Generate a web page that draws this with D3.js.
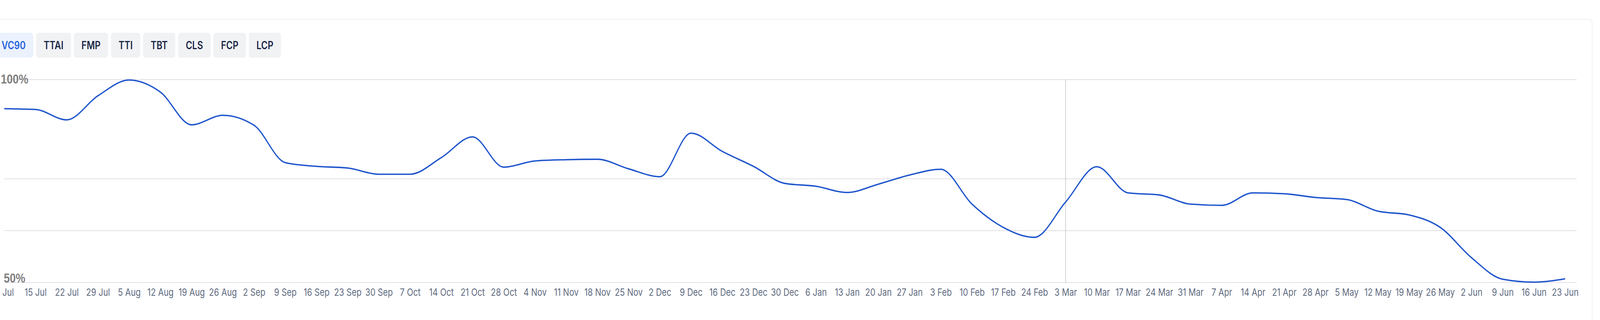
<!DOCTYPE html>
<html>
<head>
<meta charset="utf-8">
<script src="https://cdn.jsdelivr.net/npm/d3@7"></script>
<style>
  html, body { margin: 0; padding: 0; background: #fff; overflow: hidden; }
  svg { display: block; width: 100vw; height: 100vh; }
</style>
</head>
<body>
<!-- drawn in a 5064x820 frame and stretched to whatever the window really is -->
<svg id="chart" viewBox="0 0 5064 820" preserveAspectRatio="none"></svg>
<script>
// Metric tabs across the top, VC90 is the selected one
var tabs = ["VC90", "TTAI", "FMP", "TTI", "TBT", "CLS", "FCP", "LCP"];
var activeTab = "VC90";

// One point per week, Monday 8 Jul 2024 .. Monday 23 Jun 2025
var firstWeek = new Date(2024, 6, 8);
var lastWeek = new Date(2025, 5, 23);

// VC90 score per week (percent)
var vc90 = [91.9, 91.7, 89.2, 95.0, 98.8, 95.9, 88.0, 90.3, 87.9, 78.9,
            78.0, 77.6, 76.1, 76.1, 80.1, 85.1, 77.8, 79.3, 79.6, 79.7,
            77.4, 75.5, 86.0, 81.6, 78.0, 73.9, 73.2, 71.7, 73.7, 75.9,
            77.3, 68.9, 63.3, 60.9, 69.4, 77.9, 71.6, 71.1, 68.9, 68.6,
            71.6, 71.4, 70.5, 70.0, 67.2, 66.3, 63.3, 56.0, 50.8, 50.1,
            50.9];

// y gridlines; only the ends get a label
var yGrid = [50, 62.5, 75, 98.9];
var yLabels = ["50%", "", "", "100%"];

// week the hover crosshair sits on
var hoverWeek = new Date(2025, 2, 3);

var weeks = d3.timeMonday.range(firstWeek, d3.timeDay.offset(lastWeek, 1));
var points = weeks.map(function (d, i) { return { date: d, value: vc90[i] }; });

var svg = d3.select("#chart");

// card outline (top edge and right edge visible)
svg.append("path")
    .attr("d", "M-20 49.5 H5031 Q5039 49.5 5039 57.5 V840")
    .attr("fill", "none")
    .attr("stroke", "#ececee")
    .attr("stroke-width", 1.5);

// tabs
var tabFont = "600 28px Inter, 'Noto Sans', sans-serif";
var tabG = svg.append("g");
var tabX = -19;
tabs.forEach(function (name) {
    var on = name === activeTab;
    var g = tabG.append("g");
    var rect = g.append("rect")
        .attr("y", 84)
        .attr("height", 64)
        .attr("rx", 8)
        .attr("fill", on ? "#ebf2fe" : "#f1f2f4");
    var label = g.append("text")
        .attr("y", 126)
        .attr("text-anchor", "middle")
        .style("font", tabFont)
        .attr("fill", on ? "#2563db" : "#1b2747")
        .text(name);
    var w = label.node().getComputedTextLength() + 48;
    rect.attr("x", tabX).attr("width", w);
    label.attr("x", tabX + w / 2);
    tabX += w + 9;
});

// scales
var x = d3.scaleTime().domain([firstWeek, lastWeek]).range([13.5, 4953.5]);
var y = d3.scaleLinear().domain([50, 98.9]).range([724, 204]);

// gridlines
svg.append("g")
    .selectAll("line")
    .data(yGrid)
    .join("line")
    .attr("x1", 14)
    .attr("x2", 4990)
    .attr("y1", function (d) { return y(d); })
    .attr("y2", function (d) { return y(d); })
    .attr("stroke", "#e0e0e6")
    .attr("stroke-width", 2);

// hover crosshair
svg.append("line")
    .attr("x1", x(hoverWeek))
    .attr("x2", x(hoverWeek))
    .attr("y1", y(98.9))
    .attr("y2", y(50))
    .attr("stroke", "#c8c8cc")
    .attr("stroke-width", 2);

// y labels, the top one is pushed down so it stays inside the chart
svg.append("g")
    .selectAll("text")
    .data(yGrid.filter(function (v, i) { return yLabels[i]; }))
    .join("text")
    .attr("x", 46)
    .attr("y", function (v) { return Math.max(y(v), 214); })
    .attr("text-anchor", "middle")
    .style("font", "bold 34px 'Liberation Sans', Arial, sans-serif")
    .attr("fill", "#7f7f7f")
    .text(function (v) { return yLabels[yGrid.indexOf(v)]; });

// x axis, one tick per week
var xAxis = d3.axisBottom(x)
    .tickValues(weeks)
    .tickFormat(d3.timeFormat("%-d %b"))
    .tickSize(0)
    .tickPadding(0);

svg.append("g")
    .attr("transform", "translate(0,758)")
    .call(xAxis)
    .call(function (g) { g.select(".domain").remove(); })
    .selectAll("text")
    .attr("dy", "0")
    .attr("y", 0)
    .style("font", "26px Inter, 'Noto Sans', sans-serif")
    .attr("fill", "#5f6b80");

// the line
var line = d3.line()
    .x(function (d) { return x(d.date); })
    .y(function (d) { return y(d.value); })
    .curve(d3.curveMonotoneX);

svg.append("path")
    .datum(points)
    .attr("d", line)
    .attr("fill", "none")
    .attr("stroke", "#1f55cc")
    .attr("stroke-width", 3.6)
    .attr("stroke-linejoin", "round");
</script>
</body>
</html>
